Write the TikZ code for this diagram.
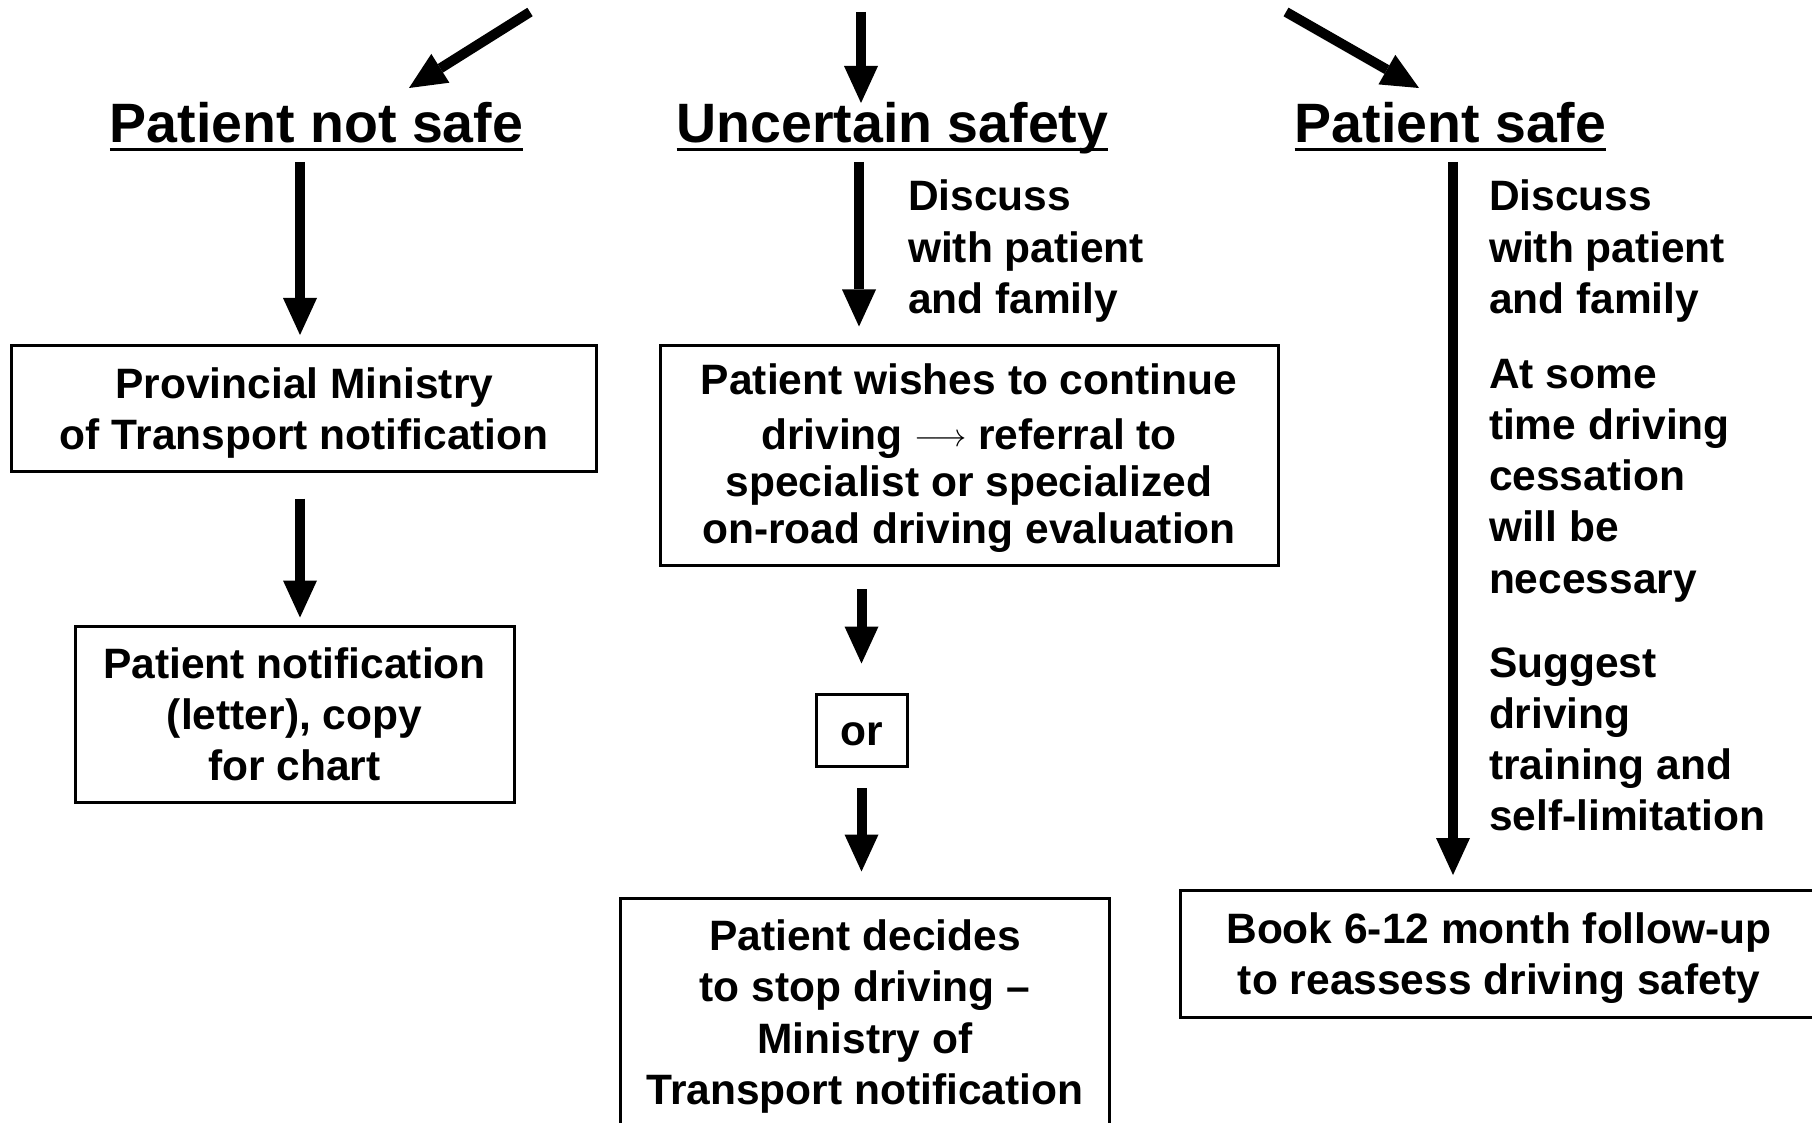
\documentclass[tikz,border=0pt]{standalone}
\usepackage{fontspec}
\setmainfont{Liberation Sans}
\usepackage{graphicx}
\usetikzlibrary{arrows.meta,calc}
\newcommand\bodyfontb[1]{\fontsize{42.5}{#1}\selectfont\bfseries\setbox\strutbox\hbox{\vrule height .8\baselineskip depth .2\baselineskip width 0pt}}
\newcommand\bodyfont{\bodyfontb{51.3}}
\newcommand\headfont{\fontsize{55.5}{66}\selectfont\bfseries}
\newcommand\thinarrow{\raisebox{3pt}{\resizebox{52pt}{!}{$\longrightarrow$}}}
\begin{document}
\begin{tikzpicture}[x=1pt,y=-1pt,
  box/.style={draw,line width=3pt,inner sep=0pt,outer sep=0pt,font=\bodyfont},
  txt/.style={inner sep=0pt,outer sep=0pt,font=\bodyfont},
  head/.style={inner sep=0pt,outer sep=0pt,font=\headfont,anchor=base},
  arr/.style={line width=10pt,-{Triangle[width=34pt,length=37pt,line width=0pt]}},
  uline/.style={line width=3.5pt}]
\useasboundingbox (0,0) rectangle (1812,1123);
\fill[white] (0,0) rectangle (1812,1123);
\clip (0,0) rectangle (1812,1123);

% headings
\node[head] (hl) at (316.5,143) {Patient not safe};
\node[head] (hm) at (892.5,143) {Uncertain safety};
\node[head] (hr) at (1450.5,143) {Patient safe};
\foreach \h in {hl,hm,hr}{
  \draw[uline] ($(\h.base west)+(0,6.5)$) -- ($(\h.base east)+(0,6.5)$);
}

% top arrows
\coordinate (s1) at (530,12);  \coordinate (e1) at (409,88);
\coordinate (s2) at (861,12);  \coordinate (e2) at (861,103);
\coordinate (s3) at (1286,12); \coordinate (e3) at (1419,88);
\draw[arr] (s1) -- (e1);
\draw[arr] (s2) -- (e2);
\draw[arr] (s3) -- (e3);

% left column
\node[box,minimum width=585pt,minimum height=126pt] (b1) at (304.3,408.5)
  {\begin{tabular}{@{}c@{}}Provincial Ministry\\of Transport notification\end{tabular}};
\node[box,minimum width=439pt,minimum height=176pt] (b2) at (294.5,714)
  {\begin{tabular}{@{}c@{}}Patient notification\\(letter), copy\\for chart\end{tabular}};

% middle column
\node[txt,anchor=base west] (dm) at (908,211)
  {\begin{tabular}[t]{@{}l@{}}Discuss\\with patient\\and family\end{tabular}};
\node[box,minimum width=618pt,minimum height=220pt,font={\bodyfontb{47}}] (b3) at (969,455)
  {\begin{tabular}{@{}c@{}}Patient wishes to continue\\[8pt]driving \thinarrow{} referral to\\specialist or specialized\\on-road driving evaluation\end{tabular}};
\node[box,minimum width=91pt,minimum height=72pt] (bor) at (861.5,730)
  {\begin{tabular}{@{}c@{}}or\end{tabular}};
\node[box,minimum width=489pt,minimum height=228pt] (b5) at (865,1012)
  {\begin{tabular}{@{}c@{}}Patient decides\\to stop driving --\\Ministry of\\Transport notification\end{tabular}};

% right column
\node[txt,anchor=base west] (t1) at (1489,211)
  {\begin{tabular}[t]{@{}l@{}}Discuss\\with patient\\and family\end{tabular}};
\node[txt,anchor=base west] (t2) at (1489,388)
  {\begin{tabular}[t]{@{}l@{}}At some\\time driving\\cessation\\will be\\necessary\end{tabular}};
\node[txt,anchor=base west] (t3) at (1489,677)
  {\begin{tabular}[t]{@{}l@{}}Suggest\\driving\\training and\\self-limitation\end{tabular}};
\node[box,minimum width=638pt,minimum height=127pt] (b6) at (1499,953.5)
  {\begin{tabular}{@{}c@{}}Book 6-12 month follow-up\\to reassess driving safety\end{tabular}};

% vertical arrows
\coordinate (a4) at (300,162);
\draw[arr,shorten >=10.5pt] (a4) -- (a4 |- b1.north);
\draw[arr,shorten <=27pt,shorten >=8.5pt] (b1.south -| a4) -- (b2.north -| a4);
\coordinate (a6) at (859,162);
\draw[arr,shorten >=18.5pt] (a6) -- (a6 |- b3.north);
\draw[arr,shorten <=24pt,shorten >=30.5pt] (b3.south -| bor.north) -- (bor.north);
\draw[arr,shorten <=22pt,shorten >=26.5pt] (bor.south) -- (b5.north -| bor.south);
\coordinate (a9) at (1453,162);
\draw[arr,shorten >=15pt] (a9) -- (a9 |- b6.north);
\end{tikzpicture}
\end{document}
